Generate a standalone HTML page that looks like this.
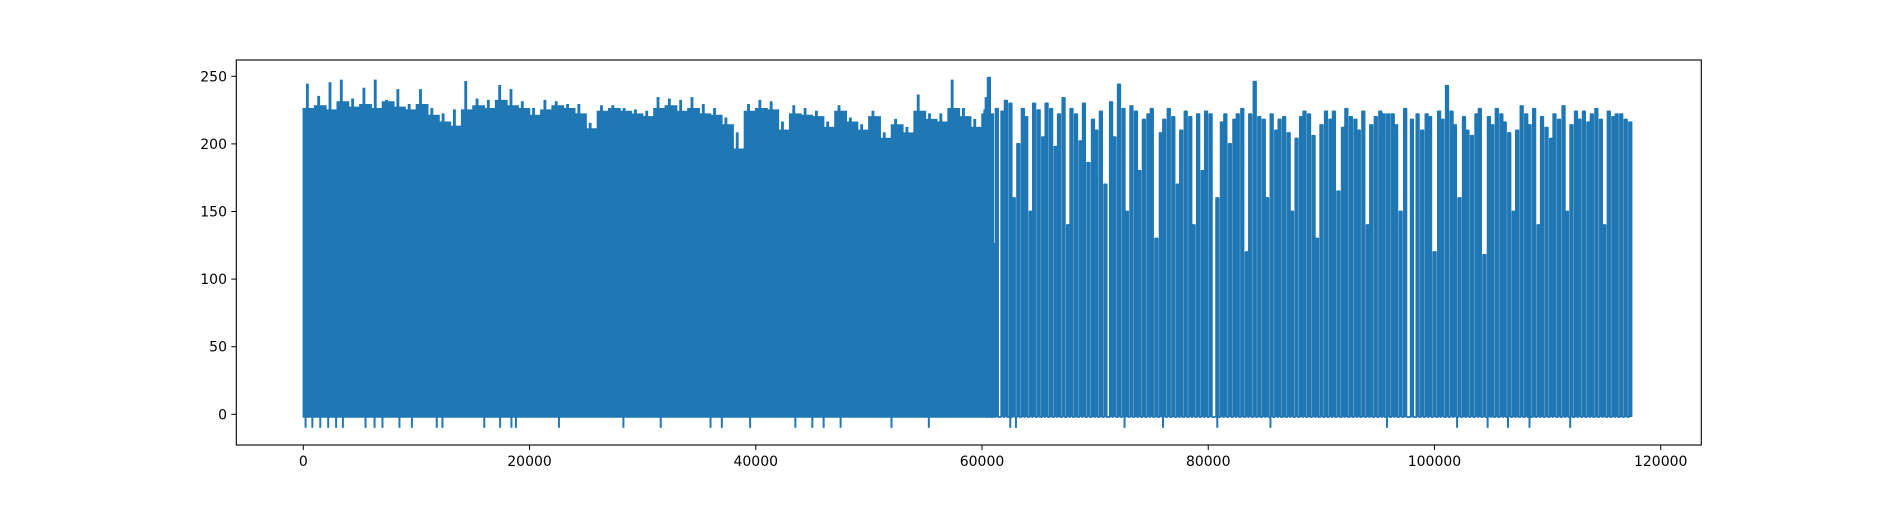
<!DOCTYPE html>
<html><head><meta charset="utf-8"><style>
body{margin:0;background:#fff}
svg text{font-family:"DejaVu Sans","Liberation Sans",sans-serif;font-size:14px;fill:#000}
</style></head><body>
<svg id="chart" width="1889" height="500" xmlns="http://www.w3.org/2000/svg">
<rect x="0" y="0" width="1889" height="500" fill="#fff"/>
<g id="plot"></g>
<g id="axes"></g>
</svg>
<script>
const xTicks = [0,20000,40000,60000,80000,100000,120000];
const yTicks = [0,50,100,150,200,250];
const baseValue = -2;
const envBinSize = 1000;
const envTop = [244,235,245,247,233,241,247,232,240,229,240,226,222,225,246,233,232,243,240,231,226,232,231,229,229,215,228,228,226,225,224,234,233,232,234,229,226,219,208,229,232,231,216,228,226,224,216,228,219,214,224,208,218,212,236,222,222,247,226,218,234];
const envLevel = [226,228,225,231,227,229,226,231,227,225,229,221,216,213,225,228,226,232,228,226,221,225,228,226,222,211,224,226,224,222,220,226,228,224,226,222,221,214,196,224,226,225,210,222,221,220,212,224,216,210,220,204,214,208,224,218,216,226,220,212,222];
const spikeX = [60200,60500,60900,61200,61700,62000,62400,62700,63100,63500,63800,64200,64500,64900,65300,65600,66000,66400,66700,67100,67500,67800,68200,68600,68900,69300,69700,70000,70400,70800,71300,71600,72000,72400,72700,73100,73500,73800,74200,74600,74900,75300,75700,76000,76400,76800,77200,77500,77900,78300,78600,79000,79400,79700,80100,80700,81100,81400,81800,82200,82500,82900,83300,83600,84000,84400,84800,85100,85500,85900,86200,86600,87000,87300,87700,88100,88400,88800,89200,89500,89900,90300,90700,91000,91400,91800,92100,92500,92900,93200,93600,94000,94300,94700,95100,95400,95800,96200,96500,96900,97300,97900,98400,98800,99200,99500,99900,100300,100600,101000,101400,101700,102100,102500,102800,103200,103600,103900,104300,104700,105000,105400,105800,106100,106500,106900,107200,107600,108000,108300,108700,109100,109400,109800,110200,110500,110900,111300,111600,112000,112400,112700,113100,113500,113800,114200,114600,114900,115300,115700,116000,116400,116800,117200];
const spikeTop = [225,249,126,226,224,232,230,160,200,226,220,150,230,225,205,230,226,198,222,234,140,226,222,202,230,186,218,210,224,170,231,205,244,226,150,228,224,180,218,222,226,130,208,218,226,220,170,210,224,220,140,222,180,224,222,160,216,222,200,218,222,226,120,222,246,220,218,160,222,210,218,220,208,150,204,220,224,222,206,130,214,224,218,224,165,212,226,220,218,210,224,140,214,220,224,222,222,222,214,150,226,218,222,210,222,220,120,224,218,243,224,214,160,220,210,206,222,226,118,220,214,226,222,216,208,150,210,228,222,214,226,140,220,212,204,222,218,228,150,214,224,218,224,216,222,226,218,140,224,220,222,222,218,216,222];
const dipX = [200,800,1500,2200,2900,3500,5500,6300,7000,8500,9600,11800,12300,16000,17400,18400,18800,22600,28300,31600,36000,37000,39500,43500,45000,46000,47500,52000,55300,62500,63000,72600,76000,80800,85500,95800,102000,104700,106500,108400,112000];
const dipValue = -10;
const pulseWidth = 220;

const X0=303.3, XS=(1660.7-303.3)/120000, Y0=414.3, YS=(414.3-76.3)/250;
const sx=v=>X0+v*XS, sy=v=>Y0-v*YS;
const NS='http://www.w3.org/2000/svg';
const plot=document.getElementById('plot'), axes=document.getElementById('axes');
function mk(tag,attrs,parent){const e=document.createElementNS(NS,tag);for(const k in attrs)e.setAttribute(k,attrs[k]);parent.appendChild(e);return e;}
const C='#1f77b4';

// dense envelope: level per bin with a narrow spike to the bin's max
let pts=[[sx(0),sy(baseValue)]];
envTop.forEach((t,i)=>{
  const a=i*envBinSize, l=envLevel[i];
  pts.push([sx(a),sy(l)],[sx(a+300),sy(l)],[sx(a+300),sy(t)],[sx(a+420),sy(t)],[sx(a+420),sy(l)],[sx(a+envBinSize),sy(l)]);
});
pts.push([sx(envTop.length*envBinSize),sy(baseValue)]);
const env=mk('polygon',{points:pts.map(p=>p.join(',')).join(' '),fill:C,stroke:C,'stroke-width':1.5},plot);



// pulses
let lp=[];
const n=Math.min(spikeX.length,spikeTop.length);
for(let i=0;i<n;i++){
  lp.push([sx(spikeX[i]),sy(baseValue)],[sx(spikeX[i]),sy(spikeTop[i])],[sx(spikeX[i]+pulseWidth),sy(spikeTop[i])],[sx(spikeX[i]+pulseWidth),sy(baseValue)]);
}
const line=mk('polyline',{points:lp.map(p=>p.join(',')).join(' '),fill:C,stroke:C,'stroke-width':1.8,'stroke-linejoin':'round'},plot);



dipX.forEach(d=>{
  const l=mk('line',{x1:sx(d),x2:sx(d),y1:sy(baseValue),y2:sy(dipValue),stroke:C,'stroke-width':2},plot);
  
  
});

// frame
const fr=mk('rect',{x:236.3,y:60,width:1701.3-236.3,height:445-60,fill:'none',stroke:'#000','stroke-width':1.1},axes);



xTicks.forEach(t=>{
  const x=sx(t);
  const tk=mk('line',{x1:x,x2:x,y1:445,y2:450,stroke:'#000','stroke-width':1},axes);
  
  
  const tx=mk('text',{x:x,y:466,'text-anchor':'middle'},axes);
  tx.textContent=t;
  
  
});
yTicks.forEach(t=>{
  const y=sy(t);
  const tk=mk('line',{x1:231.3,x2:236.3,y1:y,y2:y,stroke:'#000','stroke-width':1},axes);
  
  
  const tx=mk('text',{x:227,y:y+5,'text-anchor':'end'},axes);
  tx.textContent=t;
  
  
});
</script>
</body></html>
